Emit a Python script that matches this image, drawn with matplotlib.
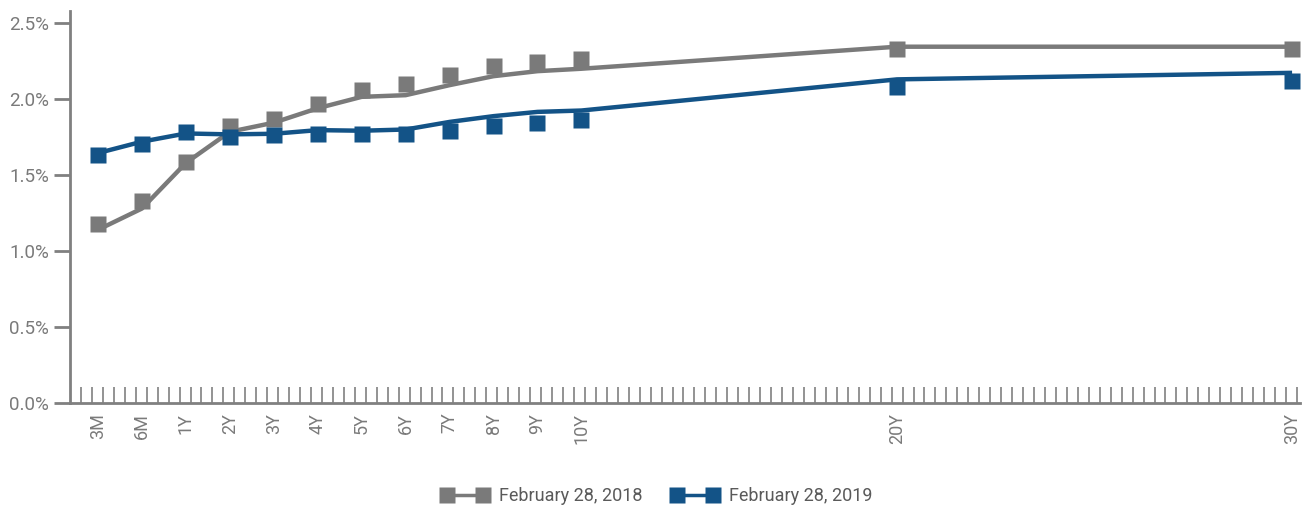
import numpy as np
import matplotlib
matplotlib.use("Agg")
import matplotlib.pyplot as plt

plt.rcParams['font.family'] = ['Roboto', 'DejaVu Sans']

categories = ["3M", "6M", "1Y", "2Y", "3Y", "4Y", "5Y", "6Y", "7Y", "8Y", "9Y", "10Y", "20Y", "30Y"]
cat_pos = [0, 1, 2, 3, 4, 5, 6, 7, 8, 9, 10, 11, 18.18, 27.17]

# February 28, 2018
line_2018 = [1.14, 1.28, 1.58, 1.785, 1.845, 1.94, 2.015, 2.026, 2.092, 2.151, 2.184, 2.20, 2.345, 2.345]
mark_2018 = [1.18, 1.33, 1.586, 1.824, 1.868, 1.967, 2.059, 2.10, 2.158, 2.217, 2.243, 2.263, 2.33, 2.33]
# February 28, 2019
line_2019 = [1.645, 1.72, 1.774, 1.768, 1.772, 1.796, 1.792, 1.80, 1.85, 1.888, 1.916, 1.925, 2.13, 2.173]
mark_2019 = [1.632, 1.704, 1.783, 1.75, 1.763, 1.77, 1.768, 1.77, 1.79, 1.824, 1.844, 1.862, 2.081, 2.118]

yticks = [0.0, 0.5, 1.0, 1.5, 2.0, 2.5]
ytick_labels = ["0.0%", "0.5%", "1.0%", "1.5%", "2.0%", "2.5%"]
series_labels = ["February 28, 2018", "February 28, 2019"]

GRAY = "#7a7a7a"
BLUE = "#135387"
AXC = "#808080"
TXT = "#7a7a7a"

fig = plt.figure(figsize=(13.02, 5.08), dpi=100)
W, H = 1302, 508
ax = fig.add_axes([69.5 / W, 1 - 403 / H, (1300 - 69.5) / W, (403 - 11) / H])

ax.plot(cat_pos, line_2018, color=GRAY, lw=3.2, solid_capstyle='butt', zorder=2)
ax.plot(cat_pos, mark_2018, ls='none', marker='s', ms=11.5, color=GRAY, mec='none', zorder=3)
ax.plot(cat_pos, line_2019, color=BLUE, lw=3.2, solid_capstyle='butt', zorder=4)
ax.plot(cat_pos, mark_2019, ls='none', marker='s', ms=11.5, color=BLUE, mec='none', zorder=5)

ax.set_xlim(-0.648, 27.35)
ax.set_ylim(0, 2.58)

for s in ['top', 'right']:
    ax.spines[s].set_visible(False)
for s in ['left', 'bottom']:
    ax.spines[s].set_color(AXC)
    ax.spines[s].set_linewidth(2)

ax.set_yticks(yticks)
ax.set_yticklabels(ytick_labels)
ax.tick_params(axis='y', direction='out', length=11.5, width=2, color=AXC,
               labelsize=13.5, labelcolor=TXT, pad=3)

ax.set_xticks(cat_pos)
ax.set_xticklabels(categories, rotation=90)
ax.tick_params(axis='x', which='major', length=0, labelsize=13, labelcolor=TXT, pad=7)
ax.set_xticks(np.linspace(-0.387, 27.28, 112), minor=True)
ax.tick_params(axis='x', which='minor', direction='in', length=11.5, width=1.2, color=AXC)

h1, = ax.plot([], [], color=GRAY, lw=2.5, marker='s', ms=11.5, mec='none')
h2, = ax.plot([], [], color=BLUE, lw=2.5, marker='s', ms=11.5, mec='none')
leg = fig.legend([h1, h2], series_labels, loc='center', bbox_to_anchor=(0.5046, 1 - 496 / H),
                 ncol=2, frameon=False, numpoints=2, handlelength=2.6, fontsize=13,
                 columnspacing=1.65, handletextpad=0.55)
for t in leg.get_texts():
    t.set_color("#5a5a5a")

fig.savefig("out.png", dpi=100)
